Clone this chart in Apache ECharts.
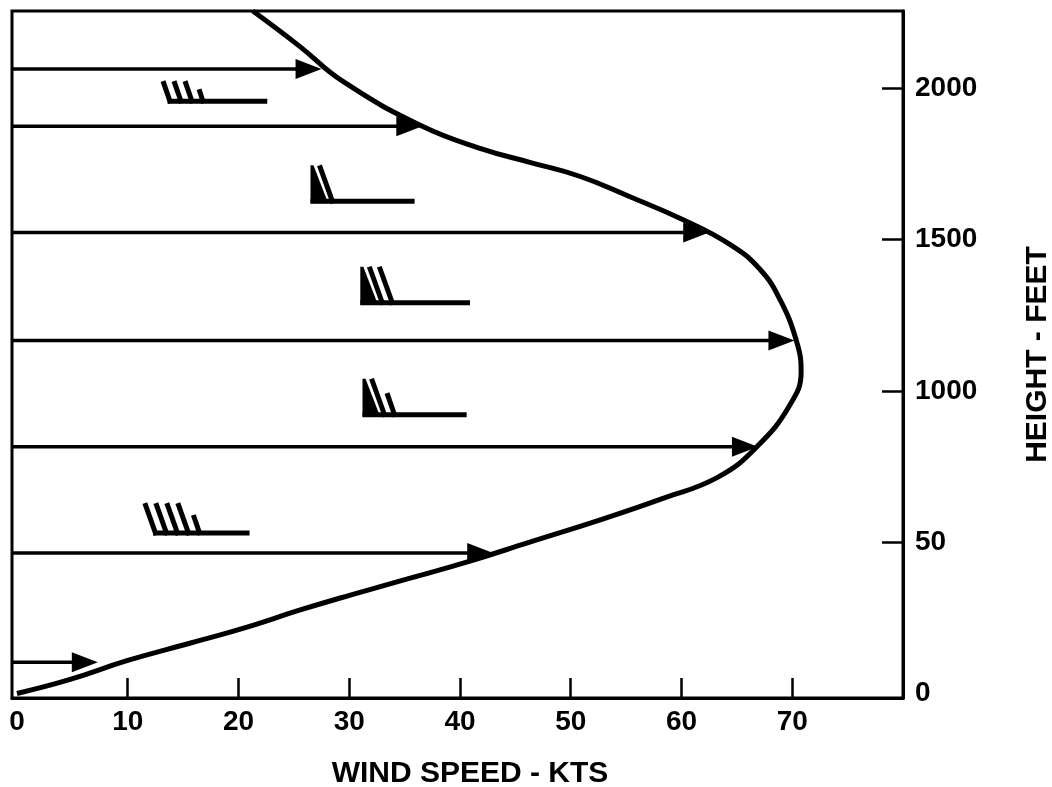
<!DOCTYPE html>
<html>
<head>
<meta charset="utf-8">
<script src="https://cdn.jsdelivr.net/npm/echarts@6/dist/echarts.min.js"></script>
<style>
  html, body { margin: 0; padding: 0; background: #fff; }
  #chart { width: 1052px; height: 787px; }
</style>
</head>
<body>
<div id="chart"></div>
<script>
// wind profile curve (kts, feet), bottom to top
const curveSpeed = [0, 4.5, 10.0, 15.6, 20.4, 25.5, 30.1, 35.5, 40.6, 46.3, 52.6, 58.2, 63.3, 66.8, 69.8, 70.8, 70.4, 68.9, 67.1, 64.4, 60.1, 55.3, 50.8, 46.3, 42.1, 36.6, 29.4, 25.5, 21.3]
const curveHeight = [0, 43, 109, 166, 215, 275, 325, 381, 434, 500, 573, 643, 715, 815, 954, 1063, 1162, 1301, 1401, 1483, 1566, 1642, 1709, 1755, 1798, 1874, 2023, 2139, 2255]

// horizontal arrows: height and speed at the arrow tip
const arrowHeight = [103, 464, 815, 1166, 1523, 1874, 2063]
const arrowSpeed = [7.3, 43.0, 66.9, 70.2, 62.5, 36.6, 27.5]

// wind barbs: staff from / to (kts), height, speed the barb shows
const barbFrom = [13.6, 26.5, 31.0, 31.2, 12.3]
const barbTo = [22.6, 35.9, 40.9, 40.6, 21.0]
const barbHeight = [1957, 1626, 1291, 921, 530]
const barbKts = [35, 60, 70, 65, 45]

// axes
const xMin = -0.45
const xMax = 80
const yMin = -15
const yMax = 2255
const xTicks = [10, 20, 30, 40, 50, 60, 70]
const xLabels = [0, 10, 20, 30, 40, 50, 60, 70]
const yTicks = [500, 1000, 1500, 2000]
const yLabels = [0, 500, 1000, 1500, 2000]
const yLabelText = ['0', '50', '1000', '1500', '2000']

// glyph size of each barb in px (style only)
const barbGlyph = [20, 36, 36, 36, 30]

const font = "'Liberation Sans', Arial, Helvetica, sans-serif"
const black = '#000'

const chart = echarts.init(document.getElementById('chart'))

function renderArrow (params, api) {
    const start = api.coord([api.value(0), api.value(1)])
    const tip = api.coord([api.value(2), api.value(1)])
    const len = 26
    const half = 10
    return {
        type: 'group',
        children: [
            {
                type: 'line',
                shape: { x1: start[0], y1: start[1], x2: tip[0] - len + 2, y2: tip[1] },
                style: { stroke: black, lineWidth: 3.5 }
            },
            {
                type: 'polygon',
                shape: { points: [[tip[0], tip[1]], [tip[0] - len, tip[1] - half], [tip[0] - len, tip[1] + half]] },
                style: { fill: black }
            }
        ]
    }
}

function renderBarb (params, api) {
    const p0 = api.coord([api.value(0), api.value(1)])
    const p1 = api.coord([api.value(2), api.value(1)])
    let kts = api.value(3)
    const H = barbGlyph[params.dataIndex]
    const big = H > 32
    const s = 0.38
    const y0 = p0[1]
    const children = [{
        type: 'line',
        shape: { x1: p0[0], y1: y0, x2: p1[0], y2: y0 },
        style: { stroke: black, lineWidth: 5 }
    }]
    let x = p0[0]
    let hadPennant = false
    // pennant = 50 kts
    while (kts >= 50) {
        const w = s * H + 3
        children.push({
            type: 'polygon',
            shape: { points: [[x, y0 + 2], [x, y0 - H], [x + 3, y0 - H], [x + w + 1, y0 + 2]] },
            style: { fill: black }
        })
        x += w
        kts -= 50
        hadPennant = true
    }
    let bx = hadPennant ? x + 6 : x + 3
    const gap = big ? 10 : 11
    const lw = 5
    // full barb = 10 kts
    while (kts >= 10) {
        children.push({
            type: 'line',
            shape: { x1: bx, y1: y0 + 2, x2: bx - s * H, y2: y0 - H },
            style: { stroke: black, lineWidth: lw }
        })
        bx += gap
        kts -= 10
    }
    // half barb = 5 kts
    if (kts >= 5) {
        const h = 0.6 * H
        children.push({
            type: 'line',
            shape: { x1: bx, y1: y0 + 2, x2: bx - s * h, y2: y0 - h },
            style: { stroke: black, lineWidth: lw }
        })
    }
    return { type: 'group', children }
}

const option = {
    animation: false,
    backgroundColor: '#fff',
    grid: {
        left: 12,
        right: 149,
        top: 11,
        bottom: 89,
        show: true,
        borderColor: black,
        borderWidth: 3,
        containLabel: false,
        outerBoundsMode: 'none'
    },
    xAxis: {
        type: 'value',
        min: xMin,
        max: xMax,
        name: 'WIND SPEED - KTS',
        nameLocation: 'middle',
        nameGap: 61,
        nameMoveOverlap: false,
        nameTextStyle: { color: black, fontSize: 30, fontWeight: 'bold', fontFamily: font, padding: [0, 0, 0, 25] },
        axisLine: { onZero: false, lineStyle: { color: black, width: 3 } },
        axisTick: { inside: true, length: 20, customValues: xTicks, lineStyle: { color: black, width: 2.5 } },
        axisLabel: { customValues: xLabels, margin: 10, color: black, fontSize: 28, fontWeight: 'bold', fontFamily: font },
        splitLine: { show: false }
    },
    yAxis: {
        type: 'value',
        position: 'right',
        min: yMin,
        max: yMax,
        name: 'HEIGHT - FEET',
        nameLocation: 'middle',
        nameRotate: 90,
        nameGap: 120,
        nameMoveOverlap: false,
        nameTextStyle: { color: black, fontSize: 30, fontWeight: 'bold', fontFamily: font },
        axisLine: { onZero: false, lineStyle: { color: black, width: 3 } },
        axisTick: { inside: true, length: 21, customValues: yTicks, lineStyle: { color: black, width: 2.5 } },
        axisLabel: {
            customValues: yLabels,
            margin: 12,
            color: black,
            fontSize: 28,
            fontWeight: 'bold',
            fontFamily: font,
            formatter: (v) => yLabelText[yLabels.indexOf(v)]
        },
        splitLine: { show: false }
    },
    series: [
        {
            type: 'line',
            data: curveSpeed.map((v, i) => [v, curveHeight[i]]),
            smooth: 0.45,
            showSymbol: false,
            lineStyle: { color: black, width: 5 },
            z: 3
        },
        {
            type: 'custom',
            renderItem: renderArrow,
            data: arrowHeight.map((h, i) => [xMin, h, arrowSpeed[i]]),
            encode: { x: [0, 2], y: 1 },
            clip: false,
            z: 4
        },
        {
            type: 'custom',
            renderItem: renderBarb,
            data: barbHeight.map((h, i) => [barbFrom[i], h, barbTo[i], barbKts[i]]),
            encode: { x: [0, 2], y: 1 },
            clip: false,
            z: 4
        }
    ]
}

chart.setOption(option)
</script>
</body>
</html>
